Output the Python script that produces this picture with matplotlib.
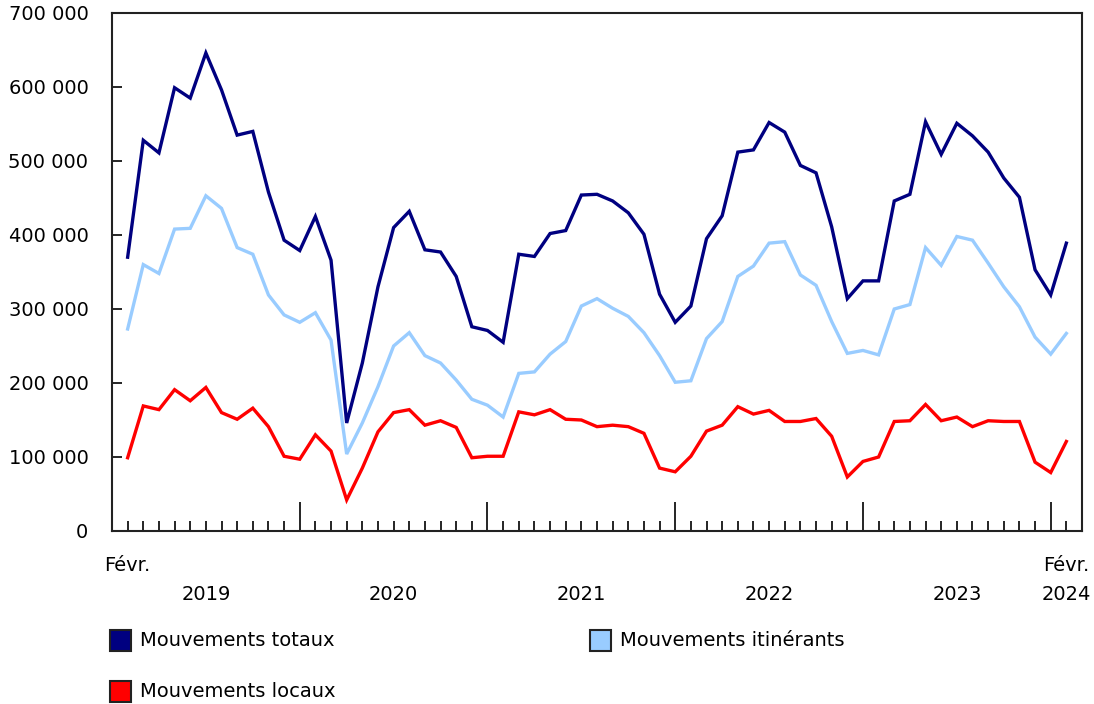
import matplotlib
matplotlib.use('Agg')
import matplotlib.pyplot as plt
from matplotlib.patches import Rectangle
from matplotlib.ticker import FuncFormatter

plt.rcParams['font.family'] = ['DejaVu Sans']

# monthly, Feb 2019 .. Feb 2024
totaux = [370000, 528000, 511000, 599000, 585000, 646000, 596000, 535000, 540000, 458000,
          393000, 379000, 425000, 366000, 146000, 227000, 330000, 410000, 432000, 380000,
          377000, 344000, 276000, 271000, 255000, 374000, 371000, 402000, 406000, 454000,
          455000, 446000, 430000, 401000, 320000, 282000, 304000, 395000, 426000, 512000,
          515000, 552000, 539000, 494000, 484000, 411000, 314000, 338000, 338000, 446000,
          455000, 553000, 509000, 551000, 534000, 512000, 477000, 451000, 353000, 319000,
          389000]
itinerants = [273000, 360000, 348000, 408000, 409000, 453000, 436000, 383000, 374000, 319000,
              292000, 282000, 295000, 258000, 104000, 146000, 195000, 250000, 268000, 237000,
              227000, 204000, 178000, 170000, 154000, 213000, 215000, 239000, 256000, 304000,
              314000, 301000, 290000, 268000, 237000, 201000, 203000, 260000, 283000, 344000,
              358000, 389000, 391000, 346000, 332000, 283000, 240000, 244000, 238000, 300000,
              306000, 383000, 359000, 398000, 393000, 362000, 330000, 303000, 262000, 239000,
              267000]
locaux = [99000, 169000, 164000, 191000, 176000, 194000, 160000, 151000, 166000, 141000,
          101000, 97000, 130000, 108000, 42000, 85000, 134000, 160000, 164000, 143000,
          149000, 140000, 99000, 101000, 101000, 161000, 157000, 164000, 151000, 150000,
          141000, 143000, 141000, 132000, 85000, 80000, 101000, 135000, 143000, 168000,
          158000, 163000, 148000, 148000, 152000, 128000, 73000, 94000, 100000, 148000,
          149000, 171000, 149000, 154000, 141000, 149000, 148000, 148000, 93000, 79000,
          121000]
annees = ['2019', '2020', '2021', '2022', '2023']
annee_pos = [5, 17, 29, 41, 53]
janvier = [11, 23, 35, 47, 59]

c_tot = '#000080'
c_iti = '#99ccff'
c_loc = '#ff0000'
fs = 14

fig = plt.figure(figsize=(10.94, 7.04), dpi=100)
ax = fig.add_axes([112 / 1094, 1 - 531 / 704, 970 / 1094, 518 / 704])

x = list(range(len(totaux)))
ax.plot(x, totaux, color=c_tot, linewidth=2.4, solid_joinstyle='miter')
ax.plot(x, itinerants, color=c_iti, linewidth=2.4, solid_joinstyle='miter')
ax.plot(x, locaux, color=c_loc, linewidth=2.4, solid_joinstyle='miter')

ax.set_xlim(-1, 61)
ax.set_ylim(0, 700000)

ax.set_yticks(range(0, 700001, 100000))
ax.yaxis.set_major_formatter(FuncFormatter(lambda v, p: '{:,}'.format(int(v)).replace(',', ' ')))
ax.tick_params(axis='y', direction='in', length=7, width=1.2, pad=17, labelsize=fs)

ax.set_xticks(janvier)
ax.set_xticks(x, minor=True)
ax.set_xticklabels([])
ax.tick_params(axis='x', which='major', direction='in', length=21, width=1.2)
ax.tick_params(axis='x', which='minor', direction='in', length=7, width=1.2)

for s in ax.spines.values():
    s.set_linewidth(1.5)
    s.set_color('#222222')

tr = ax.get_xaxis_transform()
ax.text(0, -0.066, 'Févr.', transform=tr, ha='center', va='center', fontsize=fs)
ax.text(60, -0.066, 'Févr.', transform=tr, ha='center', va='center', fontsize=fs)
for p, a in zip(annee_pos, annees):
    ax.text(p, -0.122, a, transform=tr, ha='center', va='center', fontsize=fs)
ax.text(60, -0.122, '2024', transform=tr, ha='center', va='center', fontsize=fs)

# legend
legende = [(110, 630, c_tot, 'Mouvements totaux'),
           (590, 630, c_iti, 'Mouvements itinérants'),
           (110, 681, c_loc, 'Mouvements locaux')]
for px, py, col, lab in legende:
    fig.add_artist(Rectangle((px / 1094, 1 - (py + 21) / 704), 21 / 1094, 21 / 704,
                             transform=fig.transFigure, facecolor=col,
                             edgecolor='#222222', linewidth=1.5))
    fig.text((px + 30) / 1094, 1 - (py + 10.5) / 704, lab, ha='left', va='center',
             fontsize=fs)

fig.savefig('out.png', dpi=100)
